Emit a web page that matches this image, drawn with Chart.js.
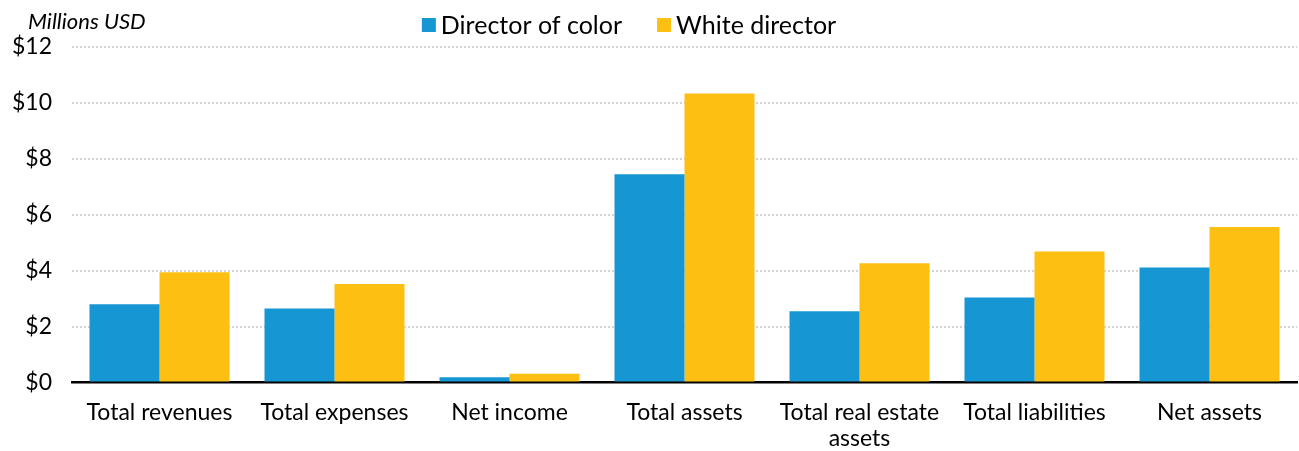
<!DOCTYPE html>
<html>
<head>
<meta charset="utf-8">
<script src="https://cdn.jsdelivr.net/npm/chart.js@4.4.0/dist/chart.umd.min.js"></script>
<style>
  html, body { margin: 0; padding: 0; background: #fff; }
  #wrap { width: 1299px; height: 451px; position: relative; }
</style>
</head>
<body>
<div id="wrap"><canvas id="c"></canvas></div>
<script>
const categories = ['Total revenues', 'Total expenses', 'Net income', 'Total assets', ['Total real estate', 'assets'], 'Total liabilities', 'Net assets'];
const directorOfColor = [2.80, 2.64, 0.18, 7.45, 2.55, 3.04, 4.11];
const whiteDirector = [3.94, 3.52, 0.31, 10.34, 4.26, 4.68, 5.56];
const seriesNames = ['Director of color', 'White director'];
const yTicks = [0, 2, 4, 6, 8, 10, 12];
const unitLabel = 'Millions USD';

const FONT = 'Lato, "Open Sans", sans-serif';

const extrasPlugin = {
  id: 'extras',
  afterDraw(chart) {
    const ctx = chart.ctx;
    ctx.save();
    // unit label
    ctx.font = 'italic 22px ' + FONT;
    ctx.fillStyle = '#000';
    ctx.textBaseline = 'middle';
    ctx.textAlign = 'left';
    ctx.fillText(unitLabel, 28, 22);
    // legend
    ctx.font = '25px ' + FONT;
    const box = 14, gapText = 5, gapItem = 35;
    const widths = chart.data.datasets.map(d => ctx.measureText(d.label).width);
    let total = 0;
    widths.forEach((w, i) => { total += box + gapText + w + (i ? gapItem : 0); });
    let x = 629 - total / 2;
    const cy = 25;
    chart.data.datasets.forEach((d, i) => {
      ctx.fillStyle = d.backgroundColor;
      ctx.fillRect(x, cy - box / 2, box, box);
      x += box + gapText;
      ctx.fillStyle = '#000';
      ctx.fillText(d.label, x, cy + 1);
      x += widths[i] + gapItem;
    });
    ctx.restore();
  }
};

new Chart(document.getElementById('c'), {
  type: 'bar',
  data: {
    labels: categories,
    datasets: [
      { label: seriesNames[0], data: directorOfColor, backgroundColor: '#1696d2', borderWidth: 0 },
      { label: seriesNames[1], data: whiteDirector, backgroundColor: '#fdbf11', borderWidth: 0 }
    ]
  },
  options: {
    responsive: true,
    maintainAspectRatio: false,
    animation: false,
    layout: { padding: { top: 47, right: 2, left: 0, bottom: -18 } },
    datasets: { bar: { barPercentage: 1.0, categoryPercentage: 0.8 } },
    plugins: {
      legend: { display: false },
      tooltip: { enabled: false },
      title: { display: false }
    },
    scales: {
      x: {
        grid: { display: false, drawTicks: false },
        border: { display: true, color: '#000', width: 2.5 },
        ticks: {
          color: '#000', padding: 18,
          font: { family: FONT, size: 23, lineHeight: 1.1 },
          maxRotation: 0, autoSkip: false
        }
      },
      y: {
        min: 0, max: 12,
        afterBuildTicks(scale) { scale.ticks = yTicks.map(v => ({ value: v })); },
        afterFit(scale) { scale.width = 72; },
        grid: { color: '#d4d4d4', lineWidth: 2, drawTicks: false },
        border: { display: false, dash: [2, 2] },
        ticks: {
          color: '#000', padding: 20,
          font: { family: FONT, size: 23 },
          callback: v => '$' + v
        }
      }
    }
  },
  plugins: [extrasPlugin]
});
</script>
</body>
</html>
